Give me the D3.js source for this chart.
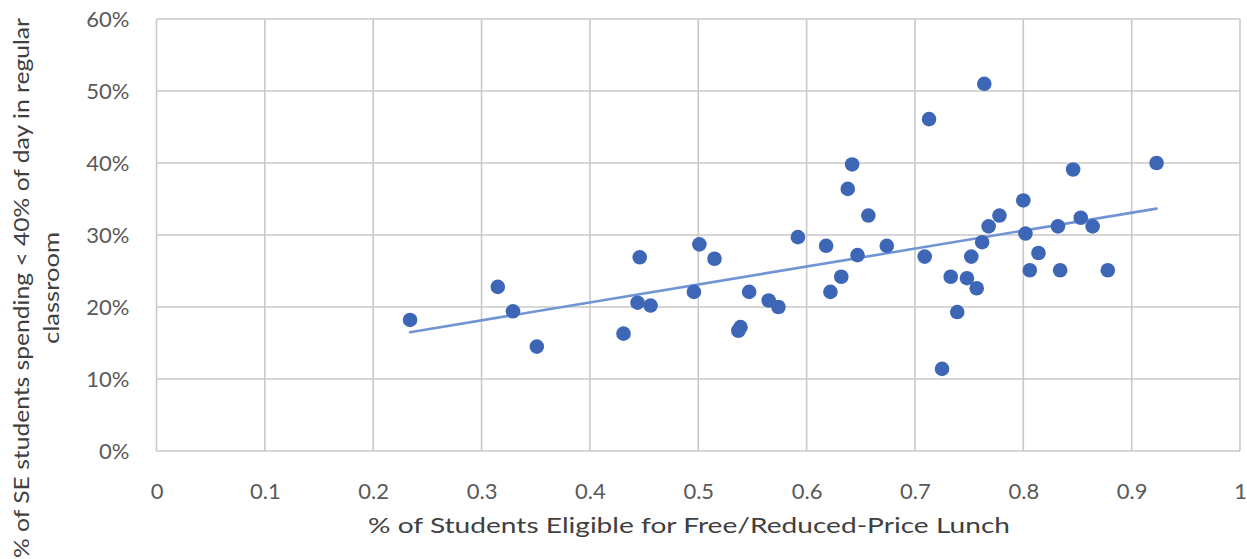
<!DOCTYPE html>
<html>
<head>
<meta charset="utf-8">
<script src="https://cdn.jsdelivr.net/npm/d3@7"></script>
<style>
  html, body { margin: 0; padding: 0; background: #fff; }
  svg { display: block; }
</style>
</head>
<body>
<svg id="chart" width="1247" height="559"></svg>
<script>
// ---- Data ----
const lunchShare = [
  0.234, 0.315, 0.329, 0.351, 0.431, 0.444, 0.446, 0.456, 0.496, 0.501,
  0.515, 0.537, 0.539, 0.547, 0.565, 0.574, 0.592, 0.618, 0.622, 0.632,
  0.638, 0.642, 0.647, 0.657, 0.674, 0.709, 0.713, 0.725, 0.733, 0.739,
  0.748, 0.752, 0.757, 0.762, 0.764, 0.768, 0.778, 0.800, 0.802, 0.806,
  0.814, 0.832, 0.834, 0.846, 0.853, 0.864, 0.878, 0.923
];
const seShare = [
  0.182, 0.228, 0.194, 0.145, 0.163, 0.206, 0.269, 0.202, 0.221, 0.287,
  0.267, 0.167, 0.172, 0.221, 0.209, 0.200, 0.297, 0.285, 0.221, 0.242,
  0.364, 0.398, 0.272, 0.327, 0.285, 0.270, 0.461, 0.114, 0.242, 0.193,
  0.240, 0.270, 0.226, 0.290, 0.510, 0.312, 0.327, 0.348, 0.302, 0.251,
  0.275, 0.312, 0.251, 0.391, 0.324, 0.312, 0.251, 0.400
];
const xTicks = [0, 0.1, 0.2, 0.3, 0.4, 0.5, 0.6, 0.7, 0.8, 0.9, 1];
const yTicks = [0, 0.1, 0.2, 0.3, 0.4, 0.5, 0.6];
const xTitle = "% of Students Eligible for Free/Reduced-Price Lunch";
const yTitleLines = ["% of SE students spending < 40% of day in regular", "classroom"];

// ---- Layout ----
const plot = { left: 156.5, right: 1240, top: 19, bottom: 451 };
const svg = d3.select("#chart");
const x = d3.scaleLinear().domain([0, 1]).range([plot.left, plot.right]);
const y = d3.scaleLinear().domain([0, 0.6]).range([plot.bottom, plot.top]);

const gridColor = "#c9c9c9";
const tickColor = "#595959";
const font = "Lato, 'Liberation Sans', sans-serif";

// Gridlines
svg.append("g").selectAll("line").data(xTicks).join("line")
  .attr("x1", d => x(d)).attr("x2", d => x(d))
  .attr("y1", plot.top).attr("y2", plot.bottom)
  .attr("stroke", gridColor).attr("stroke-width", 1.6);
svg.append("g").selectAll("line").data(yTicks).join("line")
  .attr("x1", plot.left).attr("x2", plot.right)
  .attr("y1", d => y(d)).attr("y2", d => y(d))
  .attr("stroke", gridColor).attr("stroke-width", 1.6);

// Axes (labels only)
const xAxis = d3.axisBottom(x).tickValues(xTicks).tickSize(0).tickPadding(0)
  .tickFormat(d => d === 0 ? "0" : d === 1 ? "1" : d3.format(".1f")(d));
const gx = svg.append("g").attr("transform", `translate(0,${plot.bottom + 48})`).call(xAxis);
gx.select(".domain").remove();
gx.selectAll("text").attr("fill", tickColor).attr("font-size", 22).attr("font-family", font)
  .attr("dy", "0");

const yAxis = d3.axisLeft(y).tickValues(yTicks).tickSize(0).tickPadding(0)
  .tickFormat(d3.format(".0%"));
const gy = svg.append("g").attr("transform", `translate(${plot.left - 27},0)`).call(yAxis);
gy.select(".domain").remove();
gy.selectAll("text").attr("fill", tickColor).attr("font-size", 22).attr("font-family", font)
  .attr("dy", "0.36em");

// Trendline (least squares fit from the data)
const n = lunchShare.length;
const mx = d3.mean(lunchShare), my = d3.mean(seShare);
let sxy = 0, sxx = 0;
for (let i = 0; i < n; i++) {
  sxy += (lunchShare[i] - mx) * (seShare[i] - my);
  sxx += (lunchShare[i] - mx) ** 2;
}
const slope = sxy / sxx, intercept = my - slope * mx;
const xExt = d3.extent(lunchShare);
svg.append("line")
  .attr("x1", x(xExt[0])).attr("y1", y(intercept + slope * xExt[0]))
  .attr("x2", x(xExt[1])).attr("y2", y(intercept + slope * xExt[1]))
  .attr("stroke", "#7094d4").attr("stroke-width", 2.6).attr("stroke-linecap", "round");

// Points
svg.append("g").selectAll("circle").data(d3.range(n)).join("circle")
  .attr("cx", i => x(lunchShare[i])).attr("cy", i => y(seShare[i]))
  .attr("r", 7.3).attr("fill", "#3d66b7");

// Axis titles
svg.append("text").text(xTitle)
  .attr("x", 689).attr("y", 533).attr("text-anchor", "middle")
  .attr("font-family", font).attr("font-size", 22).attr("fill", "#404040")
  .attr("textLength", 642).attr("lengthAdjust", "spacingAndGlyphs");

const yt = svg.append("g").attr("transform", "translate(30,288) rotate(-90)");
yt.append("text").text(yTitleLines[0])
  .attr("x", 0).attr("y", -1).attr("text-anchor", "middle")
  .attr("font-family", font).attr("font-size", 21).attr("fill", "#404040")
  .attr("textLength", 540).attr("lengthAdjust", "spacingAndGlyphs");
yt.append("text").text(yTitleLines[1])
  .attr("x", 0).attr("y", 29).attr("text-anchor", "middle")
  .attr("font-family", font).attr("font-size", 21).attr("fill", "#404040")
  .attr("textLength", 112).attr("lengthAdjust", "spacingAndGlyphs");
</script>
</body>
</html>
